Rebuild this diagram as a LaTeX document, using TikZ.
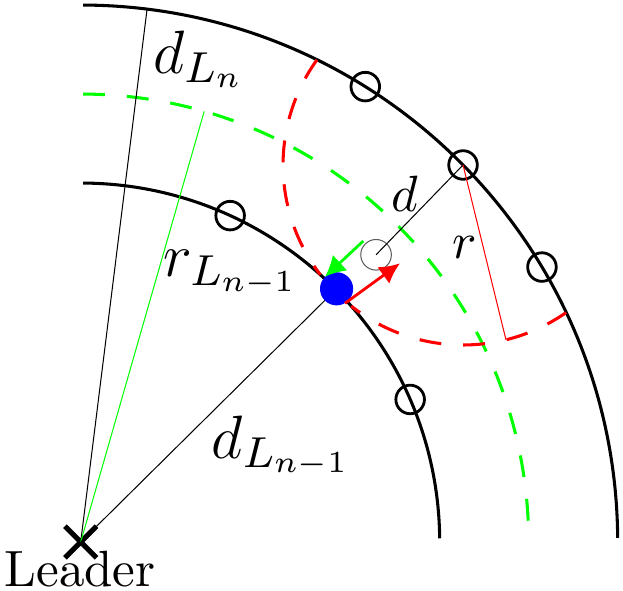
\RequirePackage{fix-cm}
\documentclass[tikz,border=0pt]{standalone}
\usetikzlibrary{arrows.meta,shapes.misc}
\DeclareMathSizes{12}{12}{8.5}{6}
\begin{document}
\begin{tikzpicture}[x=0.196pt,y=0.196pt,
  arcline/.style={line width=0.6pt},
  agent/.style={circle, draw, line width=0.55pt, minimum size=5.6pt, inner sep=0pt},
  thinline/.style={line width=0.2pt},
  gdash/.style={green, line width=0.6pt, dash pattern=on 4.3pt off 4.3pt},
  rdash/.style={red, line width=0.6pt, dash pattern=on 4.3pt off 4.3pt},
  garrow/.style={green, line width=0.55pt, -{Latex[length=4pt,width=4.2pt]}},
  rarrow/.style={red, line width=0.55pt, -{Latex[length=4pt,width=4pt]}},
  lbl/.style={inner sep=0pt}]
\useasboundingbox (-80.7,-48) rectangle (542.3,542);
% layers
\draw[arcline] (0.6:359) arc[start angle=0.6, end angle=89.6, radius=359];
\draw[arcline] (0.45:537) arc[start angle=0.45, end angle=89.75, radius=537];
\draw[gdash] (89.7:448) arc[start angle=89.7, end angle=1.45, radius=448];
% leader
\node[cross out, draw, line width=1pt, minimum size=5.2pt, inner sep=0pt] (leader) at (0,0) {};
\node[lbl, anchor=base] (leadertxt) at (-0.7,-44.7) {Leader};
% agents
\node[agent] (o1) at (58.0:537) {};
\node[agent] (o2) at (44.6:537) {};
\node[agent] (o3) at (30.8:537) {};
\node[agent] (i1) at (65.4:359) {};
\node[agent] (i2) at (23.4:359) {};
\node[circle, draw=black!65, line width=0.2pt, minimum size=6pt, inner sep=0pt] (ghost) at (44.2:412) {};
% radial lines
\coordinate (dtop) at (82.9:537);
\coordinate (gtop) at (74:448);
\path (o2.center) ++(-76.2:180) coordinate (rend);
\draw[thinline] (leader.center) -- (dtop);
\draw[thinline, green] (leader.center) -- (gtop);
\draw[thinline] (ghost.center) -- (o2.center);
\draw[thinline, red] (o2.center) -- (rend);
\draw[thinline] (leader.center) -- (44.7:360) coordinate (mepos);
% blue agent
\node[circle, fill=blue, minimum size=6.5pt, inner sep=0pt] (me) at (mepos) {};
% red dashed circle within the ring
\draw[rdash] (o2.center) ++(144.25:180) arc[start angle=144.25, end angle=217.6, radius=180];
\draw[rdash] (o2.center) ++(304.95:180) arc[start angle=304.95, end angle=231.6, radius=180];
% arrows
\coordinate (gs) at (282.6,301);
\coordinate (gt) at (244.3,265.3);
\coordinate (rs) at (264.3,238.7);
\coordinate (rt) at (319.3,278.7);
\draw[garrow] (gs) -- (gt);
\draw[rarrow] (rs) -- (rt);
% labels
\node[lbl, anchor=base west, font=\large] (lab1) at (71.6,468.7) {$d_{L_n}$};
\node[lbl, anchor=base west, font=\large] (lab2) at (81.6,265.3) {$r_{L_{n-1}}$};
\node[lbl, anchor=base west, font=\large] (lab3) at (130,83.7) {$d_{L_{n-1}}$};
\node[lbl, anchor=base west] (lab4) at (309.3,330.3) {$d$};
\node[lbl, anchor=base west] (lab5) at (371,283.7) {$r$};
\end{tikzpicture}
\end{document}
